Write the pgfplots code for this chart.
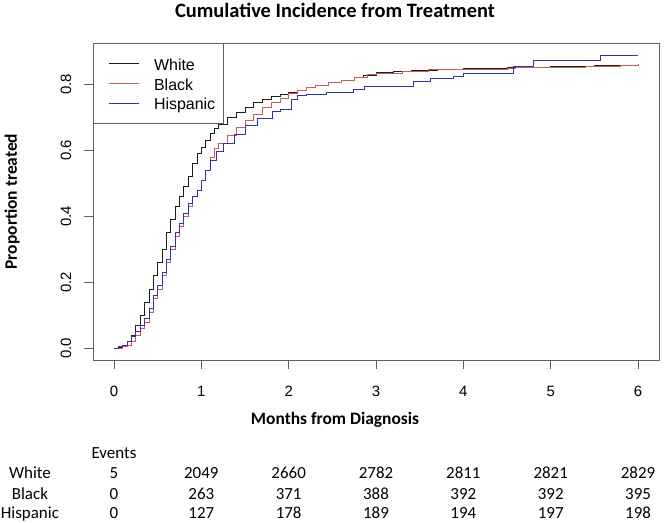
\documentclass[border=0pt]{standalone}
\usepackage{fontspec}
\setmainfont{Carlito}
\newfontfamily\arialfont{Liberation Sans}
\usepackage{pgfplots}
\usepackage{pgfplotstable}
\pgfplotsset{compat=1.18}

\definecolor{whiteline}{RGB}{30,30,30}
\definecolor{blackline}{RGB}{205,90,88}
\definecolor{hispline}{RGB}{50,50,175}
\definecolor{framegray}{RGB}{95,95,95}

% Cumulative incidence of treatment by group (months, proportion treated)
\pgfplotstableread{
t p
0.00 0.000
0.05 0.003
0.10 0.010
0.15 0.020
0.20 0.040
0.25 0.070
0.30 0.100
0.35 0.140
0.40 0.180
0.45 0.220
0.50 0.260
0.55 0.300
0.60 0.350
0.65 0.390
0.70 0.430
0.75 0.460
0.80 0.490
0.85 0.520
0.90 0.560
0.95 0.590
1.00 0.610
1.05 0.630
1.10 0.650
1.15 0.665
1.20 0.680
1.30 0.700
1.40 0.715
1.50 0.730
1.60 0.745
1.70 0.755
1.80 0.762
1.90 0.768
2.00 0.775
2.10 0.782
2.20 0.790
2.30 0.798
2.45 0.805
2.60 0.812
2.75 0.820
2.85 0.828
3.00 0.835
3.20 0.838
3.40 0.842
3.70 0.845
4.00 0.848
4.50 0.851
5.00 0.853
5.50 0.856
5.90 0.858
6.00 0.860
}\whitedata

\pgfplotstableread{
t p
0.00 0.000
0.10 0.005
0.15 0.010
0.20 0.020
0.25 0.040
0.30 0.060
0.35 0.080
0.40 0.110
0.45 0.150
0.50 0.180
0.55 0.220
0.60 0.260
0.65 0.300
0.70 0.340
0.75 0.370
0.80 0.400
0.85 0.430
0.90 0.460
0.95 0.480
1.00 0.510
1.05 0.540
1.10 0.580
1.15 0.605
1.20 0.620
1.30 0.645
1.40 0.668
1.50 0.690
1.60 0.710
1.70 0.730
1.80 0.745
1.90 0.758
2.00 0.772
2.10 0.782
2.20 0.790
2.30 0.798
2.45 0.805
2.60 0.812
2.75 0.820
2.90 0.830
3.00 0.834
3.30 0.840
3.60 0.844
4.00 0.846
4.50 0.848
4.60 0.850
5.20 0.852
5.40 0.855
5.80 0.858
6.00 0.862
}\blackdata

\pgfplotstableread{
t p
0.00 0.000
0.05 0.005
0.10 0.010
0.15 0.020
0.20 0.035
0.25 0.050
0.30 0.070
0.35 0.090
0.40 0.120
0.45 0.160
0.50 0.190
0.55 0.230
0.60 0.270
0.65 0.310
0.70 0.350
0.75 0.380
0.80 0.410
0.85 0.440
0.90 0.460
0.95 0.480
1.00 0.510
1.05 0.540
1.10 0.570
1.17 0.598
1.25 0.620
1.38 0.649
1.50 0.675
1.64 0.698
1.81 0.719
1.90 0.725
2.03 0.755
2.10 0.765
2.20 0.770
2.43 0.775
2.74 0.786
2.87 0.795
3.43 0.808
3.62 0.817
3.88 0.825
4.00 0.833
4.57 0.855
4.80 0.873
5.57 0.889
6.00 0.889
}\hispdata

\begin{document}
\begin{tikzpicture}[x=1bp,y=1bp]
\path[use as bounding box] (0,0) rectangle (664,-523);
\begin{axis}[
  at={(93bp,-360bp)}, anchor=south west,
  scale only axis, width=566bp, height=317bp,
  xmin=-0.24, xmax=6.24, ymin=-0.0356, ymax=0.925,
  clip=false,
  axis line style={framegray, line width=0.8bp},
  xtick={0,1,2,3,4,5,6},
  xticklabels={0,1,2,3,4,5,6},
  ytick={0,0.2,0.4,0.6,0.8},
  yticklabels={0.0,0.2,0.4,0.6,0.8},
  tick pos=left,
  tick align=outside, major tick length=9bp,
  tick style={framegray, line width=0.8bp},
  ticklabel style={font=\arialfont\fontsize{15}{17}\selectfont, text=black, inner sep=0pt},
  xticklabel style={anchor=base, yshift=-27.4bp},
  yticklabel style={xshift=-13bp, rotate=90, anchor=base},
  /pgf/number format/assume math mode=true,
  title={\bfseries Cumulative Incidence from Treatment},
  title style={at={(0.4276,1.0789)}, anchor=base, inner sep=0pt, yshift=-6pt,
    font=\fontsize{20.5}{24}\selectfont},
  xlabel={\bfseries Months from Diagnosis},
  xlabel style={at={(0.4276,-0.2019)}, anchor=base, inner sep=0pt,
    font=\fontsize{17.5}{21}\selectfont},
  ylabel={\bfseries Proportion treated},
  ylabel style={at={(-0.1431,0.5)}, anchor=center, rotate=0,
    font=\fontsize{17.5}{21}\selectfont},
  legend style={at={(0,1)}, anchor=north west, draw=framegray, line width=0.8bp,
    fill=white, inner xsep=15bp, inner ysep=10.95bp, row sep=0.7bp, column sep=14.7bp,
    font=\arialfont\fontsize{16}{18}\selectfont,
    nodes={inner sep=0bp, text height=16bp, text depth=3bp}},
  legend cell align=left,
  legend image code/.code={%
    \draw[#1] (0bp,0bp) -- (30bp,0bp);},
]
\addplot[const plot, whiteline, line width=0.7bp, forget plot] table[x=t, y=p] {\whitedata};
\addplot[const plot, blackline, line width=0.7bp, forget plot] table[x=t, y=p] {\blackdata};
\addplot[const plot, hispline, line width=0.7bp, forget plot] table[x=t, y=p] {\hispdata};

\addlegendimage{color=whiteline, draw=whiteline, line width=1bp}
\addlegendentry{White}
\addlegendimage{color=blackline, draw=blackline, line width=1bp}
\addlegendentry{Black}
\addlegendimage{color=hispline, draw=hispline, line width=1bp}
\addlegendentry{Hispanic\kern-7bp}

% number of events table below the axis
\begin{scope}[every node/.style={anchor=base, inner sep=0pt, font=\fontsize{17}{20}\selectfont}]
\node at (axis cs:0,-0.3338) {Events};
\node at (axis cs:-0.962,-0.3944) {White};
\node at (axis cs:-0.962,-0.4580) {Black};
\node at (axis cs:-0.962,-0.5144) {Hispanic};
\node at (axis cs:0,-0.3944) {5};
\node at (axis cs:1,-0.3944) {2049};
\node at (axis cs:2,-0.3944) {2660};
\node at (axis cs:3,-0.3944) {2782};
\node at (axis cs:4,-0.3944) {2811};
\node at (axis cs:5,-0.3944) {2821};
\node at (axis cs:6,-0.3944) {2829};
\node at (axis cs:0,-0.4580) {0};
\node at (axis cs:1,-0.4580) {263};
\node at (axis cs:2,-0.4580) {371};
\node at (axis cs:3,-0.4580) {388};
\node at (axis cs:4,-0.4580) {392};
\node at (axis cs:5,-0.4580) {392};
\node at (axis cs:6,-0.4580) {395};
\node at (axis cs:0,-0.5144) {0};
\node at (axis cs:1,-0.5144) {127};
\node at (axis cs:2,-0.5144) {178};
\node at (axis cs:3,-0.5144) {189};
\node at (axis cs:4,-0.5144) {194};
\node at (axis cs:5,-0.5144) {197};
\node at (axis cs:6,-0.5144) {198};
\end{scope}
\end{axis}
\end{tikzpicture}
\end{document}
